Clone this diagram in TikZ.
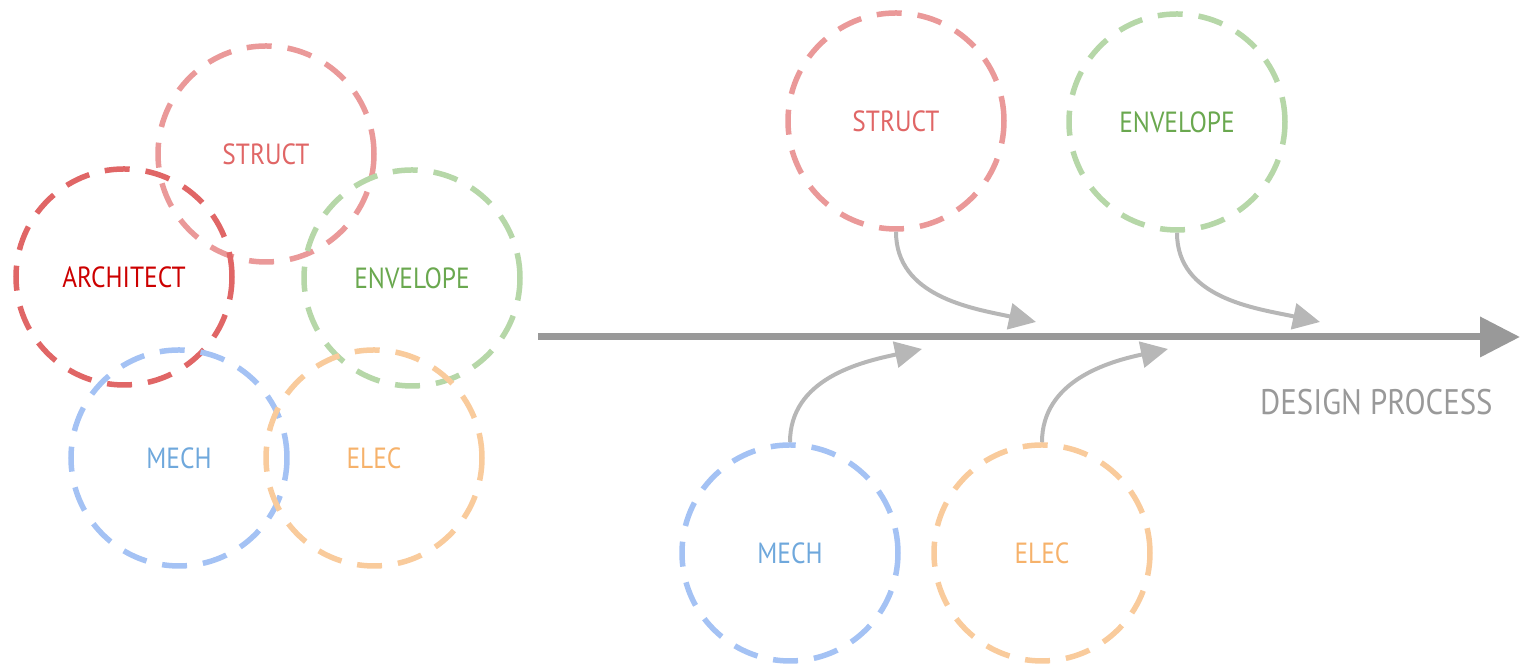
\documentclass[tikz,border=0pt]{standalone}
\usepackage{fontspec}
\setmainfont[FakeStretch=0.87]{PT Sans}
\usetikzlibrary{arrows.meta}
\definecolor{structline}{HTML}{EA9999}
\definecolor{structtext}{HTML}{E06666}
\definecolor{archline}{HTML}{E06666}
\definecolor{archtext}{HTML}{CC0000}
\definecolor{envline}{HTML}{B6D7A8}
\definecolor{envtext}{HTML}{6AA84F}
\definecolor{mechline}{HTML}{A4C2F4}
\definecolor{mechtext}{HTML}{6FA8DC}
\definecolor{elecline}{HTML}{F9CB9C}
\definecolor{electext}{HTML}{F6B26B}
\definecolor{flow}{HTML}{999999}
\definecolor{feed}{HTML}{B7B7B7}

\begin{document}
\begin{tikzpicture}[
  trade/.style={circle,minimum size=2.16cm,inner sep=0pt,line width=.055cm,
    dash pattern=on .25cm off .16cm,font=\fontsize{8.3}{10}\selectfont},
  feedin/.style={draw=feed,line width=.04cm,-{Triangle[length=.27cm,width=.26cm]}}]
\useasboundingbox (0,0) rectangle (15.23,6.68);
% everyone at once: the overlapping cluster
\node[trade,draw=structline,text=structtext] (s1) at (2.66,5.14) {STRUCT};
\node[trade,draw=archline,text=archtext] (a1) at (1.24,3.91) {ARCHITECT};
\node[trade,draw=envline,text=envtext] (e1) at (4.12,3.90) {ENVELOPE};
\node[trade,draw=mechline,text=mechtext] (m1) at (1.79,2.10) {MECH};
\node[trade,draw=elecline,text=electext] (c1) at (3.74,2.10) {ELEC};
% the process line
\coordinate (p0) at (5.38,3.31);
\coordinate (p1) at (15.20,3.31);
\draw[draw=flow,line width=.07cm,-{Triangle[length=.4cm,width=.39cm]}] (p0) -- (p1);
\node[anchor=east,text=flow,font=\fontsize{10.1}{12}\selectfont] (dp) at (15.05,2.66) {DESIGN PROCESS};
% consultants feeding in along the way
\node[trade,draw=structline,text=structtext] (s2) at (8.96,5.47) {STRUCT};
\node[trade,draw=envline,text=envtext] (e2) at (11.77,5.46) {ENVELOPE};
\node[trade,draw=mechline,text=mechtext] (m2) at (7.90,1.15) {MECH};
\node[trade,draw=elecline,text=electext] (c2) at (10.42,1.15) {ELEC};
\coordinate (ts) at (10.36,3.46);
\coordinate (te) at (13.20,3.46);
\coordinate (tm) at (9.22,3.19);
\coordinate (tc) at (11.68,3.19);
\draw[feedin] (s2.south) to[out=-90,in=168] (ts);
\draw[feedin] (e2.south) to[out=-90,in=168] (te);
\draw[feedin] (m2.north) to[out=90,in=192] (tm);
\draw[feedin] (c2.north) to[out=90,in=192] (tc);
\end{tikzpicture}
\end{document}
